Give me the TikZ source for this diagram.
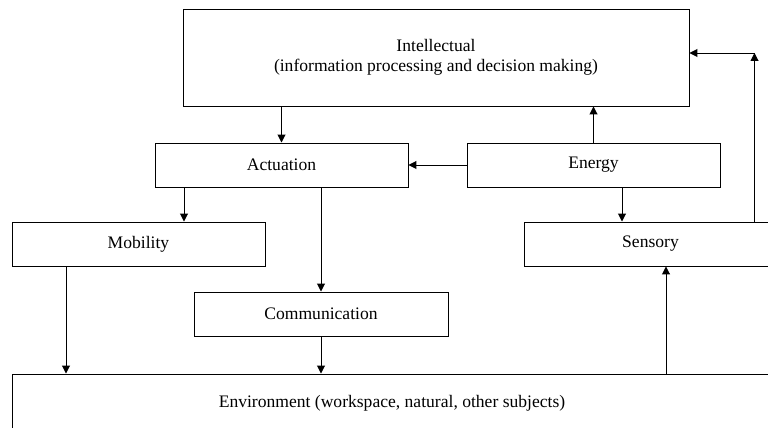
\documentclass[tikz,border=0pt]{standalone}
\usepackage{fontspec}
\setmainfont{Liberation Serif}
\usetikzlibrary{arrows.meta}

\tikzstyle{block}=[draw, line width=0.6pt, inner sep=0pt, align=center, font=\fontsize{11}{12.5}\selectfont]
\tikzstyle{link}=[line width=0.6pt, -{Triangle[length=5pt,width=5pt]}]
\tikzset{size/.style 2 args={minimum width=#1*0.022cm, minimum height=#2*0.022cm}}

\begin{document}
\begin{tikzpicture}[x=0.022cm, y=-0.022cm]
\useasboundingbox (0,0) rectangle (768,428);
\clip (0,0) rectangle (768,428);

% blocks
\node[block, size={506}{97}] (intel) at (436,57.5) {Intellectual\\(information processing and decision making)};
\node[block, size={253}{44}] (actu) at (281.5,165) {Actuation};
\node[block, size={253}{44}] (ener) at (593.5,165) {Energy};
\node[block, size={253}{44}] (mobi) at (138.5,244) {Mobility};
\node[block, size={253}{44}] (sens) at (650.5,244) {Sensory};
\node[block, size={254}{44}] (comm) at (321,314) {Communication};
\node[block, size={760}{58}] (envi) at (392,403) {Environment (workspace, natural, other subjects)};

% tap points
\coordinate (es) at (622,0);
\coordinate (am) at (184,0);
\coordinate (me) at (66,0);
\coordinate (se) at (666,0);
\coordinate (lp) at (754.5,53);

% links
\draw[link] (intel.south -| actu.north) -- (actu.north);
\draw[link] (ener.north) -- (ener.north |- intel.south);
\draw[link] (ener.west) -- (actu.east);
\draw[link] (ener.south -| es) -- (sens.north -| es);
\draw[link] (sens.north -| lp) -- (lp);
\draw[link] (lp) -- (intel.east |- lp);
\draw[link] (actu.south -| am) -- (mobi.north -| am);
\draw[link] (actu.south -| comm.north) -- (comm.north);
\draw[link] (comm.south) -- (comm.south |- envi.north);
\draw[link] (mobi.south -| me) -- (envi.north -| me);
\draw[link] (envi.north -| se) -- (sens.south -| se);
\end{tikzpicture}
\end{document}
